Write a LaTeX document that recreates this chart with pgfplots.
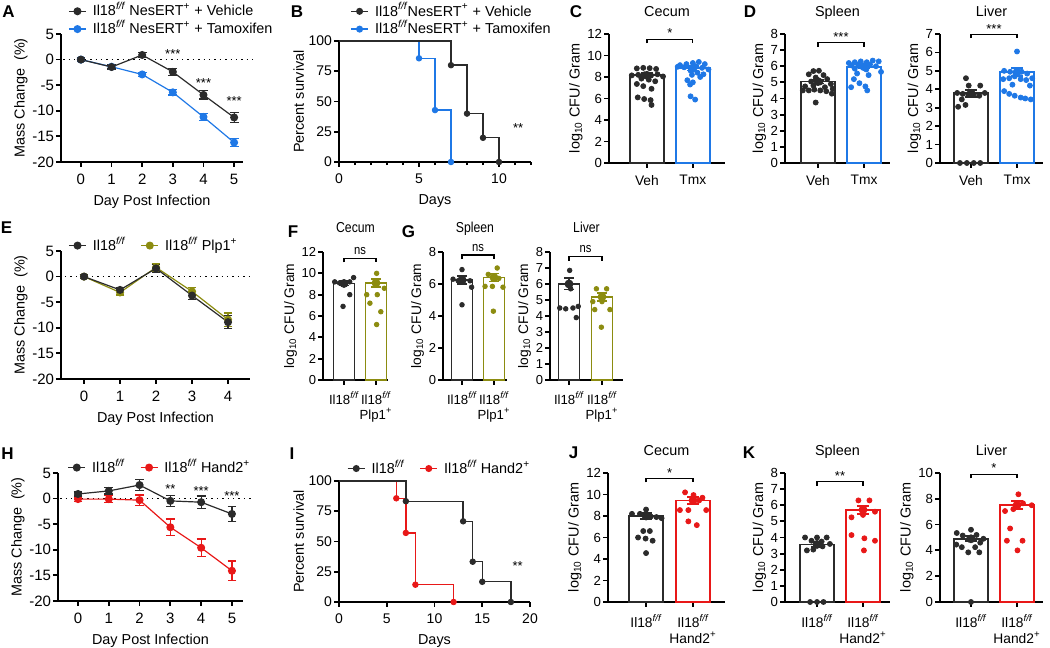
\documentclass[border=0pt]{standalone}
\usepackage{fontspec}
\setmainfont{Liberation Sans}
\usepackage{pgfplots}
\pgfplotsset{compat=1.18}

\definecolor{dk}{HTML}{2B2B2B}
\definecolor{bl}{HTML}{1F78E6}
\definecolor{ol}{HTML}{8C8C10}
\definecolor{rd}{HTML}{E81818}

\newcommand{\ilff}{Il18\textsuperscript{\itshape f/f}}
\newcommand{\nr}[1]{\scalebox{0.85}[1]{#1}}
\tikzset{st/.style={font=\fontsize{6.5}{7}\selectfont, anchor=base},
  ttl/.style={anchor=base, yshift=8.75pt, font=\fontsize{7.2}{8}\selectfont},
  ttlF/.style={anchor=base, yshift=9.5pt, font=\fontsize{7.2}{8}\selectfont},
  stF/.style={font=\fontsize{6.6}{7}\selectfont, anchor=base}}

\pgfplotsset{
  base/.style={scale only axis, anchor=south west, clip=false,
    axis x line*=bottom, axis y line*=left, tick align=outside,
    axis line style={line width=0.9pt, black},
    every tick/.style={line width=0.9pt, black},
    major tick length=2.5pt, minor tick length=1.6pt,
    tick label style={font=\fontsize{7}{8}\selectfont},
    yticklabel style={inner sep=0.8pt},
    label style={font=\fontsize{7.2}{8}\selectfont},
    xlabel style={yshift=1.5pt},
    ylabel shift=-2pt,
    /pgf/number format/assume math mode=true,
    legend cell align=left,
    legend style={draw=none, fill=none, inner sep=0pt, row sep=0pt,
      font=\fontsize{7.2}{8.5}\selectfont,
      nodes={inner sep=0.6pt, text height=6.2pt, text depth=1.5pt},
      /tikz/every odd column/.append style={column sep=2.5pt},
      /tikz/every even column/.append style={column sep=7pt}},
    legend image code/.code={\draw[mark repeat=2,mark phase=2,##1] plot coordinates {(0cm,0cm) (0.15cm,0cm) (0.3cm,0cm)};},
  },
  linech/.style={base, ymin=-20, ymax=5, ytick={-20,-15,...,5},
    tick label style={font=\fontsize{7.5}{8}\selectfont},
    xlabel={Day Post Infection}, ylabel={Mass Change~~(\%)}},
  surv/.style={base, ymin=0, ymax=100, ytick={0,25,50,75,100},
    xlabel={Days}, ylabel={Percent survival}},
  bars/.style={base, xtick={0,1}, ymin=0,
    ylabel={log\textsubscript{10} CFU/ Gram},
    yticklabel style={font=\fontsize{6.6}{7}\selectfont},
    xticklabel style={align=center, anchor=north, font=\fontsize{6.9}{8}\selectfont}},
  fg/.style={
    yticklabel style={font=\fontsize{6.5}{7}\selectfont},
    xticklabel style={font=\fontsize{6.6}{7.6}\selectfont},
    ylabel style={font=\fontsize{6.9}{7.5}\selectfont}},
  lp/.style={line width=0.6pt, mark=*, mark size=1.7pt, mark options={solid}, forget plot,
    error bars/.cd, y dir=both, y explicit, error bar style={line width=0.6pt},
    error mark options={rotate=90, mark size=2.2pt, line width=0.6pt}},
  barA/.style={ybar, bar width=17pt, bar shift=0pt, fill=white, line width=0.9pt, forget plot},
  barB/.style={ybar, bar width=10.5pt, bar shift=0pt, fill=white, line width=0.9pt, forget plot},
  dotsty/.style={only marks, mark=*, mark size=1.25pt, forget plot},
  errB/.style={only marks, mark=none, forget plot,
    error bars/.cd, y dir=both, y explicit, error bar style={line width=0.9pt},
    error mark options={rotate=90, mark size=3pt, line width=0.9pt}},
  errS/.style={only marks, mark=none, forget plot,
    error bars/.cd, y dir=both, y explicit, error bar style={line width=0.9pt},
    error mark options={rotate=90, mark size=2.5pt, line width=0.9pt}},
}

\begin{document}
\begin{tikzpicture}[font=\fontsize{7}{8.4}\selectfont]
\path[use as bounding box] (0,0) rectangle (525pt,324pt);

% panel letters
\begin{scope}[every node/.style={font=\bfseries\fontsize{8.5}{9}\selectfont}]
\node at (4.25pt,318pt) {A};
\node at (148.5pt,318pt) {B};
\node at (288pt,318pt) {C};
\node at (375pt,318pt) {D};
\node at (3.25pt,210pt) {E};
\node at (146.5pt,208pt) {F};
\node at (204.25pt,208pt) {G};
\node at (3.75pt,97pt) {H};
\node at (146pt,97pt) {I};
\node at (286.75pt,97.5pt) {J};
\node at (374.5pt,97.5pt) {K};
\end{scope}

% ===== A =====
\begin{axis}[linech, at={(30.5pt,243pt)}, width=91pt, height=64pt,
  xmin=-0.65, xmax=5.29, xtick={0,...,5},
  legend style={at={(0.038,1.25)}, anchor=north west}]
\addlegendimage{dk, line width=0.6pt, mark=*, mark size=1.7pt}
\addlegendentry{\ilff{} NesERT\textsuperscript{+} + Vehicle}
\addlegendimage{bl, line width=0.6pt, mark=*, mark size=1.7pt}
\addlegendentry{\ilff{} NesERT\textsuperscript{+} + Tamoxifen}
\draw[dotted, line width=0.7pt] (axis cs:-0.58,0) -- (axis cs:5.59,0);
\addplot[bl, lp] coordinates {(0,0) +- (0,0.2) (1,-1.4) +- (0,0.3) (2,-2.9) +- (0,0.4) (3,-6.4) +- (0,0.5) (4,-11.2) +- (0,0.7) (5,-16.2) +- (0,0.8)};
\addplot[dk, lp] coordinates {(0,0) +- (0,0.3) (1,-1.45) +- (0,0.4) (2,0.9) +- (0,0.5) (3,-2.4) +- (0,0.7) (4,-6.9) +- (0,0.8) (5,-11.3) +- (0,1.0)};
\node[st] at (axis cs:3,0.12) {***};
\node[st] at (axis cs:4,-5.4) {***};
\node[st] at (axis cs:5,-8.9) {***};
\end{axis}

% ===== B =====
\begin{axis}[surv, at={(169.5pt,243pt)}, width=96pt, height=60.5pt,
  xmin=0, xmax=12, xtick={0,5,10}, minor xtick={1,2,3,4,6,7,8,9,11,12},
  legend style={at={(0.057,1.322)}, anchor=north west}]
\addlegendimage{dk, line width=0.7pt, mark=*, mark size=1.4pt}
\addlegendentry{\ilff NesERT\textsuperscript{+} + Vehicle}
\addlegendimage{bl, line width=0.7pt, mark=*, mark size=1.4pt}
\addlegendentry{\ilff NesERT\textsuperscript{+} + Tamoxifen}
\addplot[bl, line width=0.7pt, const plot, mark=none, forget plot] coordinates {(0,100) (5,85.7) (6,42.9) (7,0)};
\addplot[bl, only marks, mark=*, mark size=1.4pt, forget plot] coordinates {(5,85.7) (6,42.9) (7,0)};
\addplot[dk, line width=0.7pt, const plot, mark=none, forget plot] coordinates {(0,100) (7,80) (8,40) (9,20) (10,0)};
\addplot[dk, only marks, mark=*, mark size=1.4pt, forget plot] coordinates {(7,80) (8,40) (9,20) (10,0)};
\node[st] at (axis cs:11.2,24.4) {**};
\end{axis}

% ===== C =====
\begin{axis}[bars, at={(304.5pt,242.5pt)}, width=58pt, height=64.5pt,
  xmin=-0.826, xmax=1.70, ymax=12, ytick={0,2,...,12},
  xticklabels={Veh,Tmx}]
\addplot[draw=dk, barA] coordinates {(0,8.15)};
\addplot[draw=bl, barA] coordinates {(1,8.8)};
\addplot[dk, dotsty] coordinates {(-0.22,8.8)(-0.08,8.85)(0.06,8.82)(0.2,8.75)(-0.33,8.15)(-0.19,8.2)(-0.05,8.25)(0.09,8.15)(0.23,8.25)(0.35,8.05)(-0.12,7.85)(0.04,7.75)(0.18,7.6)(-0.22,7.35)(-0.08,7.15)(0.1,6.9)(-0.2,6.1)(-0.06,5.95)(0.08,5.85)(0.1,5.4)};
\addplot[bl, dotsty] coordinates {(0.72,9.1)(0.86,9.2)(1.0,9.3)(1.13,9.4)(1.26,9.2)(0.67,8.95)(0.81,8.9)(1.06,9.0)(1.2,8.85)(1.34,8.7)(0.95,8.6)(1.1,8.4)(1.23,8.25)(0.98,8.2)(1.16,8.0)(0.88,7.7)(1.0,7.5)(0.94,7.3)(0.95,6.2)(1.05,5.9)};
\addplot[dk, errB] coordinates {(0,8.15) +- (0,0.2)};
\addplot[bl, errB] coordinates {(1,8.8) +- (0,0.2)};
\draw[line width=0.6pt] (axis cs:0,11.13) -- (axis cs:0,11.5) -- (axis cs:1,11.5) -- (axis cs:1,11.13);
\node[st] at (axis cs:0.5,11.7) {*};
\node[ttl] at (rel axis cs:0.5,1) {Cecum};
\end{axis}

% ===== D spleen =====
\begin{axis}[bars, at={(392.5pt,242.5pt)}, width=52.5pt, height=64.5pt,
  xmin=-0.717, xmax=1.565, ymax=8, ytick={0,...,8},
  xticklabels={Veh,Tmx}]
\addplot[draw=dk, barA] coordinates {(0,5.05)};
\addplot[draw=bl, barA] coordinates {(1,5.97)};
\addplot[dk, dotsty] coordinates {(-0.1,5.7)(0.02,5.72)(-0.2,5.5)(0.12,5.45)(-0.05,5.3)(0.2,5.2)(-0.15,5.05)(0.05,5.0)(0.28,4.9)(-0.28,4.75)(-0.1,4.8)(0.15,4.7)(-0.33,4.5)(-0.2,4.5)(-0.08,4.55)(0.05,4.5)(0.18,4.45)(0.3,4.3)(0.32,4.6)(-0.05,3.75)};
\addplot[bl, dotsty] coordinates {(0.67,6.2)(0.8,6.25)(0.93,6.3)(1.06,6.25)(1.19,6.35)(1.32,6.3)(0.73,6.05)(0.87,6.1)(1.0,6.05)(1.13,6.1)(1.26,6.0)(1.37,5.65)(0.8,5.85)(1.05,5.8)(0.85,5.55)(1.1,5.45)(0.78,5.2)(0.9,4.95)(1.03,4.75)(0.72,4.7)(1.07,4.5)};
\addplot[dk, errB] coordinates {(0,5.05) +- (0,0.12)};
\addplot[bl, errB] coordinates {(1,5.97) +- (0,0.1)};
\draw[line width=0.6pt] (axis cs:0,7.21) -- (axis cs:0,7.46) -- (axis cs:1,7.46) -- (axis cs:1,7.21);
\node[st] at (axis cs:0.5,7.55) {***};
\node[ttl] at (rel axis cs:0.5,1) {Spleen};
\end{axis}

% ===== D liver =====
\begin{axis}[bars, at={(470pt,242.5pt)}, width=51.5pt, height=64.5pt,
  xmin=-0.674, xmax=1.565, ymax=7, ytick={0,...,7},
  xticklabels={Veh,Tmx}]
\addplot[draw=dk, barA] coordinates {(0,3.78)};
\addplot[draw=bl, barA] coordinates {(1,4.92)};
\addplot[dk, dotsty] coordinates {(-0.11,4.6)(-0.05,4.2)(0.2,4.2)(-0.3,3.8)(-0.18,3.75)(-0.06,3.7)(0.06,3.72)(0.18,3.65)(0.3,3.8)(-0.2,3.45)(-0.12,3.15)(-0.28,3.05)(-0.24,0)(-0.09,0)(0.06,0)(0.2,0)};
\addplot[bl, dotsty] coordinates {(1.0,6.05)(0.72,5.0)(0.85,4.95)(0.98,4.9)(1.1,4.95)(1.22,4.85)(0.7,4.55)(0.83,4.6)(0.95,4.7)(1.08,4.55)(1.2,4.5)(1.33,4.6)(0.9,4.25)(1.28,4.2)(0.72,3.9)(0.83,3.75)(0.95,3.65)(1.08,3.55)(1.18,3.5)(1.3,3.45)};
\addplot[dk, errB] coordinates {(0,3.78) +- (0,0.2)};
\addplot[bl, errB] coordinates {(1,4.92) +- (0,0.22)};
\draw[line width=0.6pt] (axis cs:0,6.77) -- (axis cs:0,6.98) -- (axis cs:1,6.98) -- (axis cs:1,6.77);
\node[st] at (axis cs:0.5,7.05) {***};
\node[ttl] at (rel axis cs:0.5,1) {Liver};
\end{axis}

% ===== E =====
\begin{axis}[linech, at={(30.5pt,134.5pt)}, width=94.5pt, height=64pt,
  xmin=-0.64, xmax=4.61, xtick={0,...,4}, legend columns=2,
  legend style={at={(0.037,1.115)}, anchor=north west}]
\addlegendimage{dk, line width=0.6pt, mark=*, mark size=1.7pt}
\addlegendentry{\ilff}
\addlegendimage{ol, line width=0.6pt, mark=*, mark size=1.7pt}
\addlegendentry{\ilff{} Plp1\textsuperscript{+}}
\draw[dotted, line width=0.7pt] (axis cs:-0.53,0) -- (axis cs:4.61,0);
\addplot[ol, lp] coordinates {(0,0) +- (0,0.3) (1,-3.1) +- (0,0.5) (2,1.8) +- (0,0.8) (3,-2.9) +- (0,0.8) (4,-8.4) +- (0,1.3)};
\addplot[dk, lp] coordinates {(0,0) +- (0,0.3) (1,-2.6) +- (0,0.5) (2,1.6) +- (0,0.8) (3,-3.7) +- (0,0.8) (4,-8.9) +- (0,1.3)};
\end{axis}

% ===== F =====
\begin{axis}[bars, fg, at={(161.5pt,134pt)}, width=32.5pt, height=64pt,
  xmin=-0.656, xmax=1.375, ymax=12, ytick={0,2,...,12},
  xticklabels={\ilff,{\ilff\\Plp1\textsuperscript{+}}}]
\addplot[draw=dk, barB] coordinates {(0,9.05)};
\addplot[draw=ol, barB] coordinates {(1,9.1)};
\addplot[dk, dotsty, mark size=1.15pt] coordinates {(-0.29,9.2)(-0.14,9.1)(0.02,9.1)(0.18,9.2)(0.3,9.6)(0.18,8.0)(-0.03,6.9)};
\addplot[ol, dotsty, mark size=1.15pt] coordinates {(1.02,10.0)(0.71,8.0)(1.04,8.0)(1.26,8.6)(0.81,7.2)(1.15,6.4)(1.02,5.2)};
\addplot[dk, errS] coordinates {(0,9.05) +- (0,0.2)};
\addplot[ol, errS] coordinates {(1,9.1) +- (0,0.4)};
\draw[line width=0.6pt] (axis cs:0,11.03) -- (axis cs:0,11.41) -- (axis cs:1,11.41) -- (axis cs:1,11.03);
\node[stF] at (axis cs:0.5,11.76) {\nr{ns}};
\node[ttlF] at (rel axis cs:0.5,1) {\nr{Cecum}};
\end{axis}

% ===== G spleen =====
\begin{axis}[bars, fg, at={(221.5pt,134pt)}, width=32pt, height=64pt,
  xmin=-0.594, xmax=1.406, ymax=8, ytick={0,2,...,8},
  xticklabels={\ilff,{\ilff\\Plp1\textsuperscript{+}}}]
\addplot[draw=dk, barB] coordinates {(0,6.27)};
\addplot[draw=ol, barB] coordinates {(1,6.4)};
\addplot[dk, dotsty, mark size=1.15pt] coordinates {(0,6.9)(-0.28,6.3)(-0.12,6.2)(0.05,6.2)(0.25,6.2)(0.3,5.8)(0,4.7)};
\addplot[ol, dotsty, mark size=1.15pt] coordinates {(1.1,7.0)(0.82,6.6)(1.15,6.35)(0.72,5.85)(0.95,5.85)(1.28,5.8)(0.98,4.3)};
\addplot[dk, errS] coordinates {(0,6.27) +- (0,0.25)};
\addplot[ol, errS] coordinates {(1,6.4) +- (0,0.25)};
\draw[line width=0.6pt] (axis cs:0,7.56) -- (axis cs:0,7.81) -- (axis cs:1,7.81) -- (axis cs:1,7.56);
\node[stF] at (axis cs:0.5,8.0) {\nr{ns}};
\node[ttlF] at (rel axis cs:0.5,1) {\nr{Spleen}};
\end{axis}

% ===== G liver =====
\begin{axis}[bars, fg, at={(275pt,134pt)}, width=36.5pt, height=64pt,
  xmin=-0.576, xmax=1.636, ymax=8, ytick={0,...,8},
  xticklabels={\ilff,{\ilff\\Plp1\textsuperscript{+}}}]
\addplot[draw=dk, barB] coordinates {(0,6.0)};
\addplot[draw=ol, barB] coordinates {(1,5.2)};
\addplot[dk, dotsty, mark size=1.15pt] coordinates {(0.02,6.85)(0.05,5.7)(-0.28,4.5)(-0.1,4.45)(0.12,4.5)(0.28,4.6)(0.22,3.9)};
\addplot[ol, dotsty, mark size=1.15pt] coordinates {(0.83,5.7)(1.14,5.7)(0.72,4.9)(1.0,4.9)(1.24,4.4)(0.78,4.4)(0.98,3.3)};
\addplot[dk, errS] coordinates {(0,6.0) +- (0,0.35)};
\addplot[ol, errS] coordinates {(1,5.2) +- (0,0.25)};
\draw[line width=0.6pt] (axis cs:0,7.46) -- (axis cs:0,7.71) -- (axis cs:1,7.71) -- (axis cs:1,7.46);
\node[stF] at (axis cs:0.5,7.94) {\nr{ns}};
\node[ttlF] at (rel axis cs:0.5,1) {\nr{Liver}};
\end{axis}

% ===== H =====
\begin{axis}[linech, at={(29pt,23.5pt)}, width=92.5pt, height=64pt,
  xmin=-0.65, xmax=5.36, xtick={0,...,5}, legend columns=2,
  legend style={at={(0.05,1.115)}, anchor=north west}]
\addlegendimage{dk, line width=0.6pt, mark=*, mark size=1.7pt}
\addlegendentry{\ilff}
\addlegendimage{rd, line width=0.6pt, mark=*, mark size=1.7pt}
\addlegendentry{\ilff{} Hand2\textsuperscript{+}}
\draw[dotted, line width=0.7pt] (axis cs:-0.58,0) -- (axis cs:5.68,0);
\addplot[rd, lp] coordinates {(0,-0.1) +- (0,0.4) (1,-0.1) +- (0,0.7) (2,-0.3) +- (0,1.0) (3,-5.6) +- (0,1.6) (4,-9.6) +- (0,1.7) (5,-14.1) +- (0,1.9)};
\addplot[dk, lp] coordinates {(0,0.9) +- (0,0.4) (1,1.5) +- (0,0.6) (2,2.65) +- (0,1.1) (3,-0.45) +- (0,1.1) (4,-0.7) +- (0,1.2) (5,-3.0) +- (0,1.4)};
\node[st] at (axis cs:3,0.9) {**};
\node[st] at (axis cs:4,0.64) {***};
\node[st] at (axis cs:5,-0.33) {***};
\end{axis}

% ===== I =====
\begin{axis}[surv, at={(169.5pt,23pt)}, width=95.5pt, height=60.5pt,
  xmin=0, xmax=20, xtick={0,5,...,20}, legend columns=2,
  legend style={at={(0.04,1.18)}, anchor=north west}]
\addlegendimage{dk, line width=0.7pt, mark=*, mark size=1.4pt}
\addlegendentry{\ilff}
\addlegendimage{rd, line width=0.7pt, mark=*, mark size=1.4pt}
\addlegendentry{\ilff{} Hand2\textsuperscript{+}}
\addplot[rd, line width=0.7pt, const plot, mark=none, forget plot] coordinates {(0,100) (6,85.7) (7,57.1) (8,14.3) (12,0)};
\addplot[rd, only marks, mark=*, mark size=1.4pt, forget plot] coordinates {(6,85.7) (7,57.1) (8,14.3) (12,0)};
\addplot[dk, line width=0.7pt, const plot, mark=none, forget plot] coordinates {(0,100) (7,83.3) (13,66.7) (14,33.3) (15,16.7) (18,0)};
\addplot[dk, only marks, mark=*, mark size=1.4pt, forget plot] coordinates {(7,83.3) (13,66.7) (14,33.3) (15,16.7) (18,0)};
\node[st] at (axis cs:18.7,26.2) {**};
\end{axis}

% ===== J =====
\begin{axis}[bars, at={(304pt,23pt)}, width=58.5pt, height=64.5pt,
  xmin=-0.81, xmax=1.68, ymax=12, ytick={0,2,...,12},
  xticklabels={\ilff,{\ilff\\Hand2\textsuperscript{+}}}]
\addplot[draw=dk, barA] coordinates {(0,8.0)};
\addplot[draw=rd, barA] coordinates {(1,9.45)};
\addplot[dk, dotsty] coordinates {(-0.3,8.2)(-0.13,8.2)(0.0,8.6)(0.1,7.95)(0.22,7.9)(0.33,7.8)(-0.06,6.6)(0.08,6.6)(-0.17,6.0)(-0.01,5.9)(0.14,5.7)(0.0,4.55)};
\addplot[rd, dotsty] coordinates {(0.83,10.2)(1.01,9.95)(1.13,9.45)(0.72,8.55)(0.9,8.55)(1.28,8.55)(0.9,7.5)(1.08,7.15)(1.2,9.7)};
\addplot[dk, errB] coordinates {(0,8.0) +- (0,0.3)};
\addplot[rd, errB] coordinates {(1,9.45) +- (0,0.3)};
\draw[line width=0.6pt] (axis cs:0,11.13) -- (axis cs:0,11.5) -- (axis cs:1,11.5) -- (axis cs:1,11.13);
\node[st] at (axis cs:0.5,11.6) {*};
\node[ttl] at (rel axis cs:0.5,1) {Cecum};
\end{axis}

% ===== K spleen =====
\begin{axis}[bars, at={(392.5pt,23pt)}, width=52.5pt, height=64.5pt,
  xmin=-0.696, xmax=1.587, ymax=8, ytick={0,...,8},
  xticklabels={\ilff,{\ilff\\Hand2\textsuperscript{+}}}]
\addplot[draw=dk, barA] coordinates {(0,3.57)};
\addplot[draw=rd, barA] coordinates {(1,5.72)};
\addplot[dk, dotsty] coordinates {(-0.26,4.0)(0,4.0)(0.21,4.0)(-0.12,3.8)(0.1,3.75)(0.28,3.6)(-0.22,3.2)(-0.08,3.25)(0.12,3.45)(-0.15,0)(0,0)(0.14,0)};
\addplot[rd, dotsty] coordinates {(0.9,6.3)(1.14,6.3)(1.26,5.6)(0.75,5.25)(1.0,5.4)(0.75,4.15)(1.03,3.95)(1.26,3.8)(1.02,3.2)};
\addplot[dk, errB] coordinates {(0,3.57) +- (0,0.15)};
\addplot[rd, errB] coordinates {(1,5.72) +- (0,0.25)};
\draw[line width=0.6pt] (axis cs:0,7.21) -- (axis cs:0,7.46) -- (axis cs:1,7.46) -- (axis cs:1,7.21);
\node[st] at (axis cs:0.5,7.53) {**};
\node[ttl] at (rel axis cs:0.5,1) {Spleen};
\end{axis}

% ===== K liver =====
\begin{axis}[bars, at={(470pt,23pt)}, width=51.5pt, height=64.5pt,
  xmin=-0.674, xmax=1.565, ymax=10, ytick={0,2,...,10},
  xticklabels={\ilff,{\ilff\\Hand2\textsuperscript{+}}}]
\addplot[draw=dk, barA] coordinates {(0,4.9)};
\addplot[draw=rd, barA] coordinates {(1,7.5)};
\addplot[dk, dotsty] coordinates {(0,5.6)(-0.31,5.35)(-0.18,5.15)(0.12,5.2)(0.27,4.9)(-0.05,4.85)(-0.32,4.45)(-0.2,4.25)(0.09,4.25)(-0.06,3.85)(0.18,3.85)(0.2,4.6)(0,0)};
\addplot[rd, dotsty] coordinates {(1.03,8.35)(0.74,7.05)(0.92,7.2)(1.13,7.65)(1.32,7.5)(0.85,5.7)(0.78,4.75)(1.12,4.75)(1.01,4.0)};
\addplot[dk, errB] coordinates {(0,4.9) +- (0,0.2)};
\addplot[rd, errB] coordinates {(1,7.5) +- (0,0.3)};
\draw[line width=0.6pt] (axis cs:0,9.59) -- (axis cs:0,9.9) -- (axis cs:1,9.9) -- (axis cs:1,9.59);
\node[st] at (axis cs:0.5,10.0) {*};
\node[ttl] at (rel axis cs:0.5,1) {Liver};
\end{axis}

\end{tikzpicture}
\end{document}
